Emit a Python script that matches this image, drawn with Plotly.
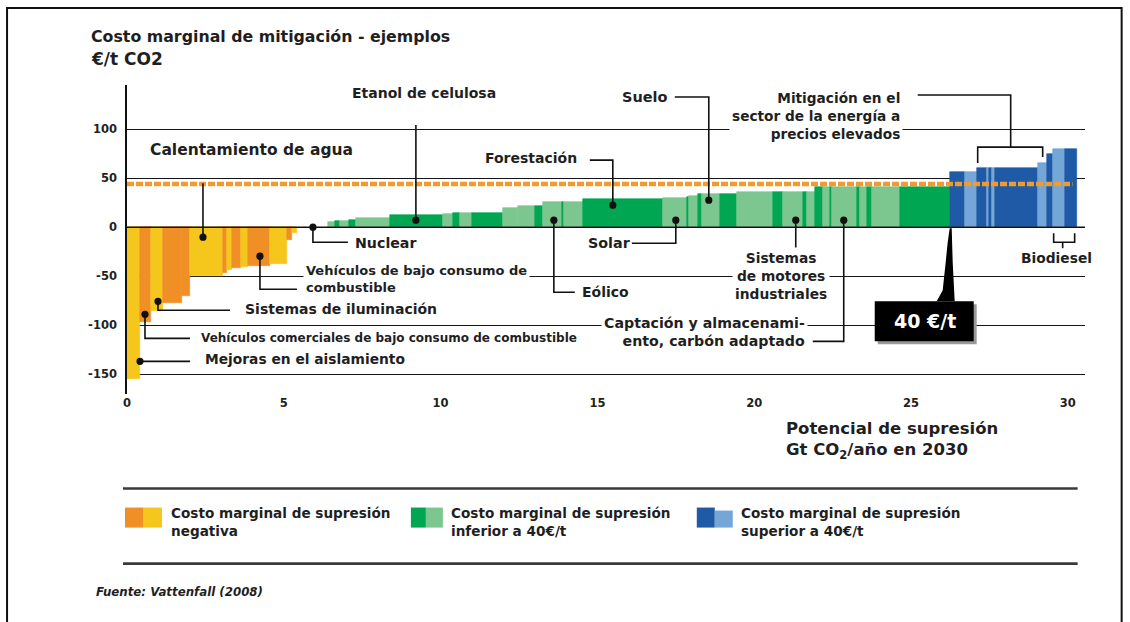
import numpy as np
import plotly.graph_objects as go

# ---------------- data ----------------
# marginal abatement cost bars: widths in Gt CO2/yr, heights in EUR/t
neg_widths = [0.41, 0.35, 0.38, 0.61, 0.26, 1.05, 0.13, 0.16, 0.29, 0.22, 0.70, 0.54, 0.16, 0.16]
neg_costs = [-155, -97, -85, -77, -70, -50, -47, -44, -42, -41, -39, -37, -13, -6]
neg_shades = ["b", "a", "b", "a", "a", "b", "a", "b", "a", "b", "a", "b", "a", "b"]

nuclear_widths = [0.99]
nuclear_costs = [0]

low_widths = [0.22, 0.16, 0.29, 0.22, 1.08, 1.69, 0.32, 0.22, 0.38, 0.99, 0.48, 0.54, 0.26,
              0.61, 0.06, 0.61, 2.55, 0.77, 0.06, 0.29, 0.13, 0.57, 0.54, 1.15, 0.32, 0.64,
              0.13, 0.26, 0.26, 0.22, 0.06, 0.80, 0.10, 0.22, 0.16, 0.89, 1.59]
low_costs = [5, 6, 6, 7, 9, 12, 13, 15, 15, 15, 20, 22, 22, 26, 26, 26, 29, 30, 31, 32, 34,
             34, 34, 36, 36, 36, 36, 36, 41, 41, 41, 41, 41, 41, 41, 41, 41]
low_shades = ["l", "d", "l", "d", "l", "d", "l", "d", "l", "d", "l", "l", "d", "l", "d", "l",
              "d", "l", "d", "l", "d", "l", "d", "l", "d", "l", "d", "l", "d", "l", "d", "l",
              "d", "l", "d", "l", "d"]

high_widths = [0.48, 0.38, 0.32, 0.06, 0.10, 0.10, 1.37, 0.29, 0.19, 0.38, 0.38]
high_costs = [56, 56, 60, 60, 60, 60, 60, 65, 75, 80, 80]
high_shades = ["d", "l", "d", "l", "d", "l", "d", "l", "d", "l", "d"]

threshold_cost = 44          # dashed orange reference line
threshold_end = 30.15

x_ticks = [0, 5, 10, 15, 20, 25, 30]
y_ticks = [100, 50, 0, -50, -100, -150]
y_tick_text = ["100", "50", "0", "-50", "-100", "-150"]

# ---------------- styling ----------------
ORANGE, YELLOW = "#F08F26", "#F5C61C"
GREEN_D, GREEN_L = "#00A651", "#7CC78F"
BLUE_D, BLUE_L = "#1E5AA6", "#74A6D8"

colors = ([ORANGE if s == "a" else YELLOW for s in neg_shades]
          + ["rgba(0,0,0,0)"]
          + [GREEN_D if s == "d" else GREEN_L for s in low_shades]
          + [BLUE_D if s == "d" else BLUE_L for s in high_shades])
widths = np.array(neg_widths + nuclear_widths + low_widths + high_widths, dtype=float)
costs = neg_costs + nuclear_costs + low_costs + high_costs
edges = np.concatenate([[0.0], np.cumsum(widths)])
centers = (edges[:-1] + edges[1:]) / 2

FONT = "DejaVu Sans"
TXT = "#1f1f1f"

W_FIG, H_FIG = 1130, 622
ML, MR, MT, MB = 127, 44.65, 85, 228.4
X_RANGE = [0, 30.55]
Y_RANGE = [-170, 145]
PW = W_FIG - ML - MR
PH = H_FIG - MT - MB


def px(x):
    return (x - ML) / PW


def py(y):
    return (H_FIG - MB - y) / PH


fig = go.Figure()
fig.add_trace(go.Bar(
    x=centers, y=costs, width=widths,
    marker=dict(color=colors, line=dict(color=colors, width=0.6)),
    hoverinfo="skip", showlegend=False,
))

shapes = []
annotations = []


def line_path(points, width=1.6, color="#111"):
    d = "M " + " L ".join(f"{px(a):.5f},{py(b):.5f}" for a, b in points)
    shapes.append(dict(type="path", xref="paper", yref="paper", path=d,
                       line=dict(color=color, width=width), layer="above"))


def dot(x, y, r=3.6):
    shapes.append(dict(type="circle", xref="paper", yref="paper",
                       x0=px(x - r), x1=px(x + r), y0=py(y + r), y1=py(y - r),
                       fillcolor="#111", line=dict(width=0), layer="above"))


def rect(x0, y0, x1, y1, color, layer="above"):
    shapes.append(dict(type="rect", xref="paper", yref="paper",
                       x0=px(x0), x1=px(x1), y0=py(y1), y1=py(y0),
                       fillcolor=color, line=dict(width=0), layer=layer))


def text(t, x, y, xanchor="left", size=13, align="left", bg=None, weight="bold",
         color=TXT, italic=False, yanchor="middle"):
    a = dict(text=t, xref="paper", yref="paper", x=px(x), y=py(y),
             xanchor=xanchor, yanchor=yanchor, showarrow=False, align=align,
             font=dict(family=FONT, size=size, color=color, weight=weight,
                       style="italic" if italic else "normal"))
    if bg:
        a["bgcolor"] = bg
        a["borderpad"] = 2
    annotations.append(a)


# threshold dashed line and zero line (data coordinates)
shapes.append(dict(type="line", xref="x", yref="y", x0=0, x1=threshold_end,
                   y0=threshold_cost, y1=threshold_cost,
                   line=dict(color="#F39A2E", width=4.5, dash="7px,2px"), layer="above"))
shapes.append(dict(type="line", xref="x", yref="y", x0=0, x1=X_RANGE[1], y0=0, y1=0,
                   line=dict(color="#111", width=1.6), layer="above"))

# ---------------- callouts ----------------
text("Calentamiento de agua", 252, 150, "center", 15.5)
line_path([(203, 183), (203, 237)]); dot(203, 237)

text("Etanol de celulosa", 424, 93, "center", 14)
line_path([(416, 125), (416, 220)]); dot(416, 220)

text("Forestación", 531, 158, "center", 14)
line_path([(590, 160), (613, 160), (613, 205)]); dot(613, 205)

text("Suelo", 645, 97, "center", 14.5)
line_path([(675, 97), (709, 97), (709, 200)]); dot(709, 200)

text("Mitigación en el<br>sector de la energía a<br>precios elevados", 903, 116, "right",
     13.7, align="right", bg="white")
line_path([(918, 95), (1011, 95), (1011, 147)])
line_path([(978, 163), (978, 147), (1043, 147), (1043, 157)])

text("Nuclear", 353, 243, "left", 14.2)
line_path([(313, 227), (313, 242), (348, 242)]); dot(313, 227)

text("Solar", 586, 243, "left", 14.3)
line_path([(632, 243), (676, 243), (676, 220)]); dot(676, 220)

text("Eólico", 580, 292, "left", 14)
line_path([(554, 220), (554, 292), (575, 292)]); dot(554, 220)

text("Sistemas<br>de motores<br>industriales", 781, 276, "center", 13.8,
     align="center", bg="white")
line_path([(796, 220), (796, 249)]); dot(796, 220)

text("Captación y almacenami-<br>ento, carbón adaptado", 808, 332, "right", 14.2,
     align="right", bg="white")
line_path([(844, 220), (844, 341), (813, 341)]); dot(844, 220)

text("Biodiesel", 1057, 258, "center", 13.8)
line_path([(1054, 233), (1054, 242), (1075, 242), (1075, 233)])
line_path([(1063, 242), (1063, 248)])

text("Vehículos de bajo consumo de<br>combustible", 303, 279, "left", 13,
     align="left", bg="white")
line_path([(260, 256), (260, 289), (297, 289)]); dot(260, 256)

text("Sistemas de iluminación", 243, 309, "left", 14)
line_path([(158, 301), (158, 310), (230, 310)]); dot(158, 301)

text("Vehículos comerciales de bajo consumo de combustible", 199, 338, "left", 12)
line_path([(145, 314), (145, 338), (190, 338)]); dot(145, 314)

text("Mejoras en el aislamiento", 203, 359, "left", 13.8)
line_path([(140, 361), (190, 361)]); dot(140, 361)

# 40 EUR/t marker
rect(878, 304, 977, 344, "#9a9a9a")
rect(875, 301, 974, 341, "#000000")
shapes.append(dict(type="path", xref="paper", yref="paper", layer="above",
                   path="M " + " L ".join(f"{px(a):.5f},{py(b):.5f}" for a, b in
                                           [(950, 228), (952, 228), (953, 262), (955, 301),
                                            (937, 301), (943, 290), (946, 262), (948, 242)]) + " Z",
                   fillcolor="#000", line=dict(width=0)))
text("40 €/t", 925, 321, "center", 19, color="white")

# ---------------- titles ----------------
text("Costo marginal de mitigación - ejemplos", 89, 37, "left", 15.8)
text("€/t CO2", 89, 59, "left", 17)
text("Potencial de supresión<br>Gt CO<sub>2</sub>/año en 2030", 784, 440, "left", 16.5, align="left")

# ---------------- legend block ----------------
line_path([(123, 488), (1078, 488)], width=2.6, color="#3a3a3a")
line_path([(123, 563), (1078, 563)], width=2.6, color="#3a3a3a")
rect(125, 507, 143, 527, ORANGE); rect(143, 507, 162, 527, YELLOW)
rect(411, 507, 426, 527, GREEN_D); rect(426, 507, 443, 527, GREEN_L)
rect(697, 507, 715, 527, BLUE_D); rect(715, 510, 733, 527, BLUE_L)
text("Costo marginal de supresión<br>negativa", 169, 521, "left", 13.6)
text("Costo marginal de supresión<br>inferior a 40€/t", 449, 521, "left", 13.6)
text("Costo marginal de supresión<br>superior a 40€/t", 739, 521, "left", 13.6)

text("Fuente: Vattenfall (2008)", 94, 591, "left", 11.8, italic=True)

# frame
shapes.append(dict(type="rect", xref="paper", yref="paper", x0=px(7), x1=px(1122),
                   y0=py(640), y1=py(8), line=dict(color="#111", width=2),
                   fillcolor="rgba(0,0,0,0)", layer="above"))

fig.update_layout(
    width=W_FIG, height=H_FIG,
    margin=dict(l=ML, r=MR, t=MT, b=MB, pad=0),
    paper_bgcolor="white", plot_bgcolor="white",
    showlegend=False, bargap=0,
    shapes=shapes, annotations=annotations,
    font=dict(family=FONT, color=TXT),
    xaxis=dict(range=X_RANGE, tickvals=x_ticks, ticktext=[str(v) for v in x_ticks],
               showgrid=False, zeroline=False, showline=False, ticks="",
               tickfont=dict(family=FONT, size=11.5, color=TXT, weight="bold")),
    yaxis=dict(range=Y_RANGE, tickvals=y_ticks, ticktext=y_tick_text,
               showgrid=True, gridcolor="#151515", gridwidth=1.3, zeroline=False,
               showline=True, linecolor="#111", linewidth=1.6, ticks="",
               ticklabelstandoff=6,
               tickfont=dict(family=FONT, size=11.5, color=TXT, weight="bold")),
)

fig.write_html("out.html", config={"displayModeBar": False},
               post_script="document.body.style.margin='0';")
